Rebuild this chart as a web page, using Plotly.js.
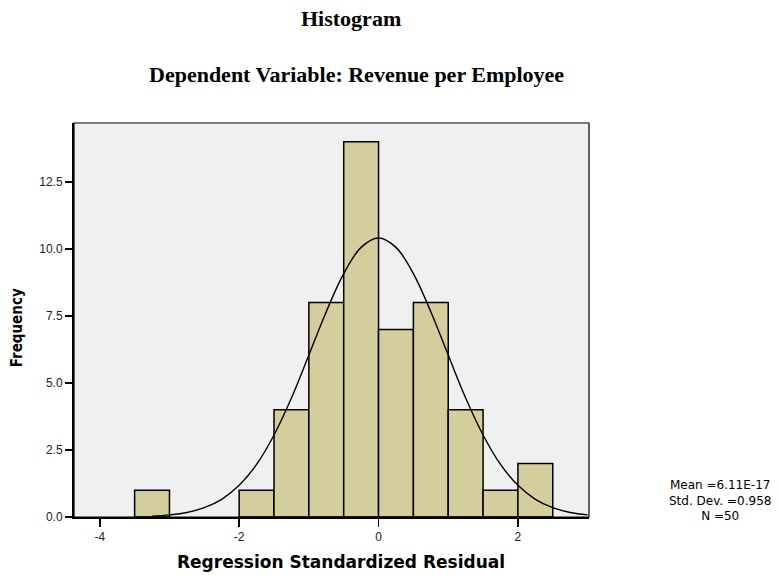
<!DOCTYPE html>
<html>
<head>
<meta charset="utf-8">
<script src="https://cdn.plot.ly/plotly-3.0.1.min.js"></script>
<style>html,body{margin:0;padding:0;background:#fff;}#chart{width:779px;height:578px;}</style>
</head>
<body>
<div id="chart"></div>
<script>
// Histogram bins (width 0.5) : centers and frequencies
const binCenters = [-3.25, -1.75, -1.25, -0.75, -0.25, 0.25, 0.75, 1.25, 1.75, 2.25];
const frequencies = [1, 1, 4, 8, 14, 7, 8, 4, 1, 2];
const binWidth = 0.5;

// Normal curve
const curveX = [-3.25, -3.0, -2.75, -2.5, -2.25, -2.0, -1.75, -1.5, -1.25, -1.0, -0.75, -0.5, -0.25, 0, 0.25, 0.5, 0.75, 1.0, 1.25, 1.5, 1.75, 2.0, 2.25, 2.5, 2.75, 3.0];
const curveY = [0.03, 0.08, 0.17, 0.35, 0.66, 1.18, 1.96, 3.06, 4.44, 6.04, 7.66, 9.08, 10.06, 10.41, 10.06, 9.08, 7.66, 6.04, 4.44, 3.06, 1.96, 1.18, 0.66, 0.35, 0.17, 0.08];

const yTicks = [0, 2.5, 5, 7.5, 10, 12.5];
const yTickLabels = ["0.0", "2.5", "5.0", "7.5", "10.0", "12.5"];
const xTicks = [-4, -2, 0, 2];
const xTickLabels = ["-4", "-2", "0", "2"];

const statsText = ["Mean =6.11E-17", "Std. Dev. =0.958", "N =50"];

const traces = [
  {
    type: 'bar',
    x: binCenters,
    y: frequencies,
    width: binWidth,
    marker: {color: '#d3ce9b', line: {color: '#000', width: 1.5}},
    hoverinfo: 'x+y'
  },
  {
    type: 'scatter',
    mode: 'lines',
    x: curveX,
    y: curveY,
    line: {color: '#000', width: 1.4, shape: 'spline'},
    hoverinfo: 'skip'
  }
];

const layout = {
  width: 779,
  height: 578,
  showlegend: false,
  paper_bgcolor: '#ffffff',
  plot_bgcolor: '#f0f0f0',
  margin: {l: 74, r: 190, t: 123, b: 61, pad: 0},
  bargap: 0,
  xaxis: {
    range: [-4.37, 3.02],
    tickvals: xTicks,
    ticktext: xTickLabels,
    ticks: 'outside',
    ticklen: 8,
    tickwidth: 1.5,
    tickcolor: '#000',
    showgrid: false,
    zeroline: false,
    showline: true,
    linecolor: '#000',
    linewidth: 2,
    tickfont: {family: 'Liberation Sans, Arial, sans-serif', size: 12, color: '#222'},
    fixedrange: true
  },
  yaxis: {
    range: [0, 14.7],
    tickvals: yTicks,
    ticktext: yTickLabels,
    ticks: 'outside',
    ticklen: 7,
    tickwidth: 1.5,
    tickcolor: '#000',
    showgrid: false,
    zeroline: false,
    showline: true,
    linecolor: '#000',
    linewidth: 2,
    tickfont: {family: 'Liberation Sans, Arial, sans-serif', size: 12, color: '#222'},
    fixedrange: true
  },
  shapes: [
    {type: 'rect', xref: 'paper', yref: 'paper', x0: 0, x1: 1, y0: 0, y1: 1, line: {color: '#000', width: 1.2}, layer: 'above'}
  ],
  annotations: [
    {text: '<b>Histogram</b>', xref: 'paper', yref: 'paper', x: 0.538, y: 1.266, xanchor: 'center', yanchor: 'middle', showarrow: false,
     font: {family: 'Liberation Serif, Times New Roman, serif', size: 22, color: '#000'}},
    {text: '<b>Dependent Variable: Revenue per Employee</b>', xref: 'paper', yref: 'paper', x: 0.5495, y: 1.124, xanchor: 'center', yanchor: 'middle', showarrow: false,
     font: {family: 'Liberation Serif, Times New Roman, serif', size: 22, color: '#000'}},
    {text: '<b>Regression Standardized Residual</b>', xref: 'paper', yref: 'paper', x: 0.518, y: -0.114, xanchor: 'center', yanchor: 'middle', showarrow: false,
     font: {family: 'DejaVu Sans, Liberation Sans, sans-serif', size: 17, color: '#000'}},
    {text: '<b>Frequency</b>', xref: 'paper', yref: 'paper', x: -0.11, y: 0.48, xanchor: 'center', yanchor: 'middle', showarrow: false, textangle: -90,
     font: {family: 'DejaVu Sans Condensed, Liberation Sans Narrow, Liberation Sans, sans-serif', size: 15, color: '#000'}},
    {text: statsText.join('<br>'), xref: 'paper', yref: 'paper', x: 1.254, y: 0.042, xanchor: 'center', yanchor: 'middle', showarrow: false, align: 'center',
     font: {family: 'DejaVu Sans, Liberation Sans, sans-serif', size: 12, color: '#000'}}
  ]
};

Plotly.newPlot('chart', traces, layout, {displayModeBar: false, staticPlot: true});
</script>
</body>
</html>
